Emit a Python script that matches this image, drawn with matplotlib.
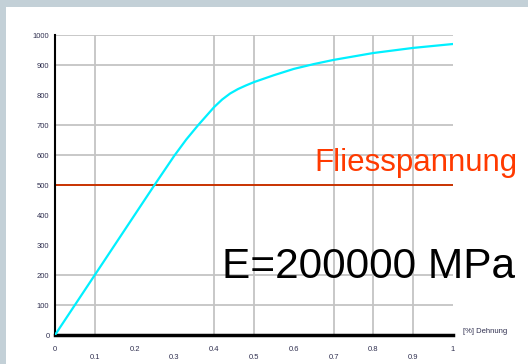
import matplotlib
matplotlib.use("Agg")
import matplotlib.pyplot as plt
from matplotlib.patches import Rectangle

# strain [%] and stress [MPa]
strain = [0, 0.1, 0.2, 0.25, 0.3, 0.33, 0.36, 0.4, 0.42, 0.44, 0.46, 0.48, 0.5, 0.55, 0.6, 0.65, 0.7, 0.8, 0.9, 1.0]
stress = [0, 200, 400, 500, 598, 652, 700, 760, 785, 805, 820, 832, 843, 866, 887, 903, 917, 940, 957, 970]

yield_stress = 500
x_ticks = [0, 0.1, 0.2, 0.3, 0.4, 0.5, 0.6, 0.7, 0.8, 0.9, 1.0]
x_tick_labels = ["0", "0.1", "0.2", "0.3", "0.4", "0.5", "0.6", "0.7", "0.8", "0.9", "1"]
y_ticks = [0, 100, 200, 300, 400, 500, 600, 700, 800, 900, 1000]
y_tick_labels = ["0", "100", "200", "300", "400", "500", "600", "700", "800", "900", "1000"]
# only some grid lines survive in the original
x_grid = [0.1, 0.4, 0.5, 0.7, 0.8, 0.9]
y_grid = [100, 200, 600, 700, 900, 1000]

plt.rcParams["font.family"] = ["Liberation Sans", "DejaVu Sans"]

fig = plt.figure(figsize=(5.28, 3.64), dpi=100)
fig.patch.set_facecolor("#c3d0d7")
fig.patches.append(Rectangle((6 / 528, 0), 1, 357 / 364, transform=fig.transFigure,
                             facecolor="white", edgecolor="none", zorder=-10))

ax = fig.add_axes([55 / 528, 29 / 364, 398 / 528, 300 / 364])
ax.set_facecolor("none")
ax.set_xlim(0, 1.0)
ax.set_ylim(0, 1000)

for gx in x_grid:
    ax.axvline(gx, color="#c4c4c4", lw=1.3, zorder=1)
for gy in y_grid:
    ax.axhline(gy, color="#c4c4c4", lw=1.3, zorder=1)

ax.axhline(yield_stress, color="#c83200", lw=1.4, zorder=2)
ax.plot(strain, stress, color="#00f0ff", lw=1.6, zorder=3)

ax.text(0.651, 547, "Fliesspannung", color="#ff3a00", fontsize=22.5, ha="left", va="baseline")
ax.text(0.42, 190, "E=200000 MPa", color="black", fontsize=30.5, ha="left", va="baseline")

for s in ["top", "right"]:
    ax.spines[s].set_visible(False)
ax.spines["left"].set_linewidth(1.5)
ax.spines["bottom"].set_linewidth(2.5)

ax.set_xticks(x_ticks)
ax.set_xticklabels([lab if i % 2 == 0 else "\n" + lab for i, lab in enumerate(x_tick_labels)],
                   fontsize=5.5, color="#303050")
ax.set_yticks(y_ticks)
ax.set_yticklabels(y_tick_labels, fontsize=5.5, color="#303050")
ax.tick_params(axis="both", length=0)
ax.tick_params(axis="x", pad=8)
ax.tick_params(axis="y", pad=4)

ax.text(1.025, 0, "[%] Dehnung", fontsize=5.5, color="#303050", ha="left", va="bottom",
        transform=ax.get_yaxis_transform())

fig.savefig("out.png", dpi=100, facecolor=fig.get_facecolor())
